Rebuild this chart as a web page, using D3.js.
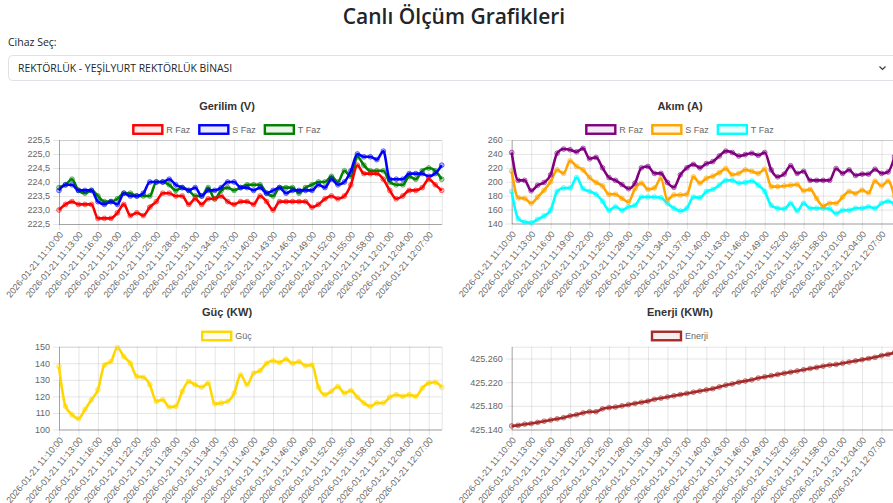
<!DOCTYPE html>
<html>
<head>
<meta charset="utf-8">
<script src="https://cdn.jsdelivr.net/npm/d3@7"></script>
<style>
  body { margin: 0; background: #fff; overflow: hidden; }
  text { font-family: "Liberation Sans", Arial, sans-serif; }
  .hdr { font-family: "Open Sans", "Noto Sans", sans-serif; fill: #212529; }
</style>
</head>
<body>
<svg id="page" width="893" height="503"></svg>
<script>
//
// Data
//

// one reading per minute on 2026-01-21
var day = '2026-01-21'
var minutes = [
  '11:10','11:11','11:12','11:13','11:14','11:15','11:16','11:17','11:18','11:19',
  '11:20','11:21','11:22','11:23','11:24','11:25','11:26','11:27','11:28','11:29',
  '11:30','11:31','11:32','11:33','11:34','11:35','11:36','11:37','11:38','11:39',
  '11:40','11:41','11:42','11:43','11:44','11:45','11:46','11:47','11:48','11:49',
  '11:50','11:51','11:52','11:53','11:54','11:55','11:56','11:57','11:58','11:59',
  '12:00','12:01','12:02','12:03','12:04','12:05','12:06','12:07','12:08','12:09'
]

var gerilimR = [
  223.0,223.2,223.3,223.2,223.2,223.2,222.7,222.7,222.7,222.9,
  223.2,222.8,222.9,222.8,223.1,223.3,223.6,223.6,223.5,223.5,
  223.2,223.4,223.2,223.4,223.4,223.5,223.3,223.2,223.3,223.3,
  223.2,223.5,223.3,223.0,223.3,223.3,223.3,223.3,223.3,223.1,
  223.2,223.4,223.5,223.4,223.5,223.9,224.6,224.3,224.3,224.3,
  224.1,223.7,223.4,223.5,223.7,223.7,223.8,224.1,223.9,223.7
]
var gerilimS = [
  223.7,223.9,223.9,223.7,223.7,223.7,223.3,223.2,223.3,223.2,
  223.6,223.5,223.5,223.6,224.0,224.0,224.0,224.1,223.9,223.8,
  223.7,223.8,223.5,223.7,223.7,223.8,224.0,224.0,223.8,223.8,
  223.7,223.8,223.6,223.7,223.8,223.6,223.7,223.7,223.7,223.7,
  223.9,223.8,224.1,223.9,224.0,224.4,225.0,224.9,224.9,224.8,
  225.1,224.1,224.1,224.1,224.3,224.3,224.3,224.2,224.3,224.6
]
var gerilimT = [
  223.8,223.9,224.1,223.7,223.6,223.7,223.5,223.3,223.3,223.4,
  223.6,223.6,223.5,223.5,223.5,224.0,224.0,223.9,223.7,223.8,
  223.7,223.5,223.5,223.8,223.4,223.7,223.8,223.7,223.8,223.9,
  223.9,223.9,223.6,223.5,223.8,223.8,223.8,223.6,223.8,223.9,
  224.0,224.0,224.2,224.0,224.4,224.2,224.9,224.6,224.4,224.4,
  224.4,224.0,223.9,223.9,224.2,224.1,224.4,224.5,224.4,224.1
]

var akimR = [
  242,202,202,187,195,199,210,241,247,246,
  243,248,233,235,220,206,202,196,190,198,
  220,222,212,212,199,192,210,220,225,220,
  226,229,237,244,242,237,239,241,238,242,
  217,207,211,223,212,215,202,202,202,202,
  219,212,217,209,211,211,218,212,214,236
]
var akimS = [
  215,177,176,169,178,188,200,217,212,230,
  222,217,206,199,194,182,182,176,171,190,
  198,189,191,205,174,181,181,182,207,198,
  205,208,213,219,210,212,217,215,212,218,
  193,193,194,195,196,187,189,176,165,169,
  169,178,186,183,188,184,201,194,201,179
]
var akimT = [
  186,147,142,141,146,151,159,186,191,191,
  206,190,186,182,172,159,164,159,164,166,
  178,178,178,177,169,162,158,162,178,177,
  186,189,195,202,202,198,199,201,195,186,
  166,162,161,169,158,169,162,162,162,161,
  154,159,159,162,162,164,162,169,172,168
]

var guc = [
  138,114,109,106.5,112,118,124,139,141,149.5,
  144,140,132,131.5,127,117,118,113.5,114,123,
  129,127,125.5,128,115.5,116,117,122,133,127,
  134,135.5,140,141.5,140.5,142.5,140,141,138.5,139,
  125.5,121,123,126,122,123.5,119.5,116,114,116,
  116,119.5,121,120,121,120,125,128,128.5,125.5
]

var enerji = [
  425.146,425.147,425.149,425.150,425.152,425.154,425.156,425.158,425.160,425.163,
  425.165,425.168,425.170,425.170,425.175,425.177,425.178,425.180,425.182,425.184,
  425.186,425.188,425.191,425.193,425.195,425.197,425.199,425.201,425.203,425.205,
  425.207,425.209,425.212,425.215,425.217,425.220,425.222,425.224,425.227,425.229,
  425.231,425.233,425.235,425.237,425.239,425.241,425.243,425.245,425.247,425.249,
  425.250,425.252,425.254,425.256,425.258,425.260,425.262,425.265,425.267,425.270
]

// y ticks
var gerilimTicks = [222.5, 223, 223.5, 224, 224.5, 225, 225.5]
var akimTicks = [140, 160, 180, 200, 220, 240, 260]
var gucTicks = [100, 110, 120, 130, 140, 150]
var enerjiTicks = [425.14, 425.18, 425.22, 425.26]

//
// Configuration
//

var tickEvery = 3
var gridColor = 'rgba(0,0,0,0.1)'
var tickColor = '#666'
var commaFmt = function(d) { return d3.format('.1f')(d).replace('.', ',') }

var charts = [
  { title: 'Gerilim (V)', cx: 227, left: 59, right: 441.7, top: 140, bottom: 224,
    titleY: 106, legendY: 129.5, domain: [222.5, 225.5], ticks: gerilimTicks, fmt: commaFmt,
    series: [
      { name: 'R Faz', values: gerilimR, color: '#ff0000' },
      { name: 'S Faz', values: gerilimS, color: '#0000ff' },
      { name: 'T Faz', values: gerilimT, color: '#008000' }
    ] },
  { title: 'Akım (A)', cx: 680, left: 511.7, right: 894.5, top: 140, bottom: 223.5,
    titleY: 106, legendY: 129.5, domain: [140, 260], ticks: akimTicks, fmt: d3.format('d'),
    series: [
      { name: 'R Faz', values: akimR, color: '#800080' },
      { name: 'S Faz', values: akimS, color: '#ffa500' },
      { name: 'T Faz', values: akimT, color: '#00ffff' }
    ] },
  { title: 'Güç (KW)', cx: 227, left: 59, right: 441.7, top: 346.7, bottom: 429.5,
    titleY: 312, legendY: 336, domain: [100, 150], ticks: gucTicks, fmt: d3.format('d'),
    series: [
      { name: 'Güç', values: guc, color: '#ffd700' }
    ] },
  { title: 'Enerji (KWh)', cx: 680, left: 511.7, right: 894.5, top: 346.7, bottom: 429.5,
    titleY: 312, legendY: 336, domain: [425.14, 425.28], ticks: enerjiTicks, fmt: d3.format('.3f'),
    series: [
      { name: 'Enerji', values: enerji, color: '#a52a2a' }
    ] }
]

var svg = d3.select('#page')

//
// Header
//

svg.append('text').attr('class', 'hdr')
  .attr('x', 454).attr('y', 24)
  .attr('text-anchor', 'middle')
  .style('font-size', '21px').style('font-weight', 600)
  .text('Canlı Ölçüm Grafikleri')

svg.append('text').attr('class', 'hdr')
  .attr('x', 8).attr('y', 46)
  .style('font-size', '10.5px')
  .text('Cihaz Seç:')

svg.append('rect')
  .attr('x', 8.5).attr('y', 55.5).attr('width', 900).attr('height', 25).attr('rx', 4)
  .attr('fill', '#fff').attr('stroke', '#dee2e6')

svg.append('text').attr('class', 'hdr')
  .attr('x', 18).attr('y', 71.5)
  .style('font-size', '10.4px')
  .text('REKTÖRLÜK - YEŞİLYURT REKTÖRLÜK BİNASI')

svg.append('path')
  .attr('d', 'M879.5,66.5 L882.5,69.5 L885.5,66.5')
  .attr('fill', 'none').attr('stroke', '#343a40').attr('stroke-width', 1.2)

//
// Charts
//

function fade(color, a) {
  var c = d3.color(color)
  c.opacity = a
  return c.toString()
}

function drawChart(c) {
  var g = svg.append('g')
  var idx = d3.range(minutes.length)
  var x = d3.scalePoint().domain(idx).range([c.left, c.right])
  var y = d3.scaleLinear().domain(c.domain).range([c.bottom, c.top])
  var shown = idx.filter(function(i) { return i % tickEvery === 0 })
  var w = c.right - c.left
  var h = c.bottom - c.top

  // grid
  g.append('g')
    .attr('transform', 'translate(' + c.left + ',0)')
    .call(d3.axisLeft(y).tickValues(c.ticks).tickSize(-w).tickFormat(''))
  g.append('g')
    .attr('transform', 'translate(0,' + c.bottom + ')')
    .call(d3.axisBottom(x).tickValues(shown).tickSize(-h).tickFormat(''))

  // axes
  g.append('g')
    .attr('transform', 'translate(' + c.left + ',0)')
    .call(d3.axisLeft(y).tickValues(c.ticks).tickSize(6).tickSizeOuter(0).tickPadding(3).tickFormat(c.fmt))
  var xa = g.append('g')
    .attr('transform', 'translate(0,' + c.bottom + ')')
    .call(d3.axisBottom(x).tickValues(shown).tickSize(6).tickSizeOuter(0)
      .tickFormat(function(i) { return day + ' ' + minutes[i] + ':00' }))

  g.selectAll('.domain').attr('stroke', gridColor)
  g.selectAll('.tick line').attr('stroke', gridColor)
  g.selectAll('.tick text').attr('fill', tickColor).style('font-size', '9px')
    .style('font-family', '"Liberation Sans", Arial, sans-serif')

  xa.selectAll('.tick text')
    .attr('text-anchor', 'end')
    .attr('dy', '0.32em')
    .attr('y', 0)
    .attr('transform', 'translate(2,9) rotate(-50)')

  // lines, first dataset on top
  var line = d3.line()
    .x(function(d, i) { return x(i) })
    .y(function(d) { return y(d) })
    .curve(d3.curveMonotoneX)

  c.series.slice().reverse().forEach(function(s) {
    g.append('path')
      .datum(s.values)
      .attr('d', line)
      .attr('fill', 'none')
      .attr('stroke', s.color)
      .attr('stroke-width', 2.6)
      .attr('stroke-linejoin', 'round')
    g.append('g').selectAll('circle')
      .data(s.values)
      .join('circle')
      .attr('cx', function(d, i) { return x(i) })
      .attr('cy', function(d) { return y(d) })
      .attr('r', 2.4)
      .attr('fill', fade(s.color, 0.25))
      .attr('stroke', fade(s.color, 0.55))
      .attr('stroke-width', 1)
  })

  // title
  g.append('text')
    .attr('x', c.cx).attr('y', c.titleY)
    .attr('text-anchor', 'middle').attr('dy', '0.35em')
    .style('font-size', '11px').style('font-weight', 'bold')
    .attr('fill', '#333')
    .text(c.title)

  // legend
  var boxW = 29, boxH = 8.5, gap = 4, sep = 9
  var lg = g.append('g')
  var items = c.series.map(function(s) {
    var t = lg.append('text')
      .attr('y', c.legendY).attr('dy', '0.35em')
      .style('font-size', '9px').attr('fill', tickColor)
      .text(s.name)
    return { s: s, t: t, tw: t.node().getComputedTextLength() }
  })
  var total = d3.sum(items, function(d) { return boxW + gap + d.tw }) + sep * (items.length - 1)
  var cur = c.cx - total / 2
  items.forEach(function(d) {
    lg.append('rect')
      .attr('x', cur).attr('y', c.legendY - boxH / 2)
      .attr('width', boxW).attr('height', boxH)
      .attr('fill', fade(d.s.color, 0.08))
      .attr('stroke', d.s.color).attr('stroke-width', 2.4)
    d.t.attr('x', cur + boxW + gap)
    cur += boxW + gap + d.tw + sep
  })
}

charts.forEach(drawChart)
</script>
</body>
</html>
